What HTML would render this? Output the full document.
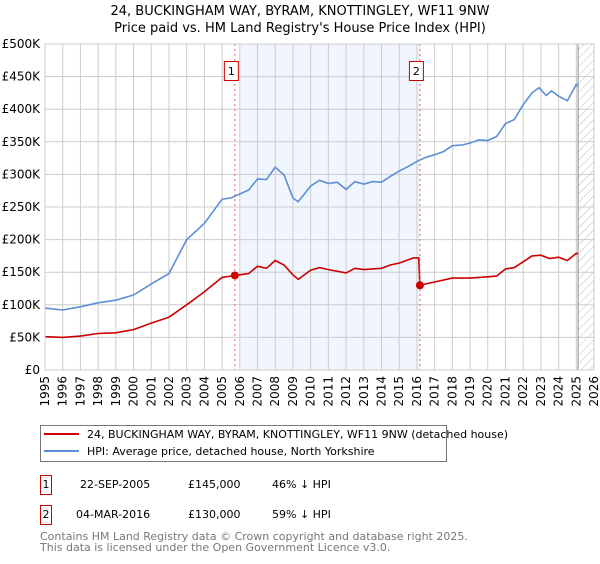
<!DOCTYPE html>
<html><head><meta charset="utf-8"><style>
body{margin:0;background:#fff;font-family:"DejaVu Sans","Liberation Sans",sans-serif;}
svg text{font-family:"DejaVu Sans","Liberation Sans",sans-serif;}
</style></head><body>
<svg id="chart" width="600" height="560" xmlns="http://www.w3.org/2000/svg">
<defs><pattern id="hatch" width="6" height="6" patternUnits="userSpaceOnUse" patternTransform="rotate(45)"><line x1="0" y1="0" x2="0" y2="6" stroke="#bbb" stroke-width="1"/></pattern></defs>
<text x="300" y="15" text-anchor="middle" font-size="13">24, BUCKINGHAM WAY, BYRAM, KNOTTINGLEY, WF11 9NW</text>
<text x="300" y="32" text-anchor="middle" font-size="13">Price paid vs. HM Land Registry's House Price Index (HPI)</text>
<g id="plot"></g>
<g>
<rect x="40.5" y="425.5" width="406" height="36" fill="#fff" stroke="#777"/>
<line x1="44" y1="434" x2="79" y2="434" stroke="#cc0000" stroke-width="2"/>
<text x="87" y="438" font-size="11">24, BUCKINGHAM WAY, BYRAM, KNOTTINGLEY, WF11 9NW (detached house)</text>
<line x1="44" y1="451" x2="79" y2="451" stroke="#5b8fd4" stroke-width="2"/>
<text x="87" y="455" font-size="11">HPI: Average price, detached house, North Yorkshire</text>
</g>
<g font-size="11">
<rect x="40.5" y="475.5" width="11" height="19" fill="#fff" stroke="#cc0000"/>
<text x="46" y="488" text-anchor="middle">1</text>
<text x="80" y="488">22-SEP-2005</text><text x="188" y="488">£145,000</text><text x="272" y="488">46% ↓ HPI</text>
</g>
<g font-size="11">
<rect x="40.5" y="505.5" width="11" height="19" fill="#fff" stroke="#cc0000"/>
<text x="46" y="518" text-anchor="middle">2</text>
<text x="76" y="518">04-MAR-2016</text><text x="188" y="518">£130,000</text><text x="272" y="518">59% ↓ HPI</text>
</g>
<text font-size="11" fill="#777"><tspan x="40" y="540">Contains HM Land Registry data © Crown copyright and database right 2025.</tspan><tspan x="40" y="551">This data is licensed under the Open Government Licence v3.0.</tspan></text>
</svg>
<script>
const hpiYears=[1995,1996,1997,1998,1999,2000,2001,2002,2003,2004,2005,2005.5,2006,2006.5,2007,2007.5,2008,2008.5,2009,2009.3,2010,2010.5,2011,2011.5,2012,2012.5,2013,2013.5,2014,2014.5,2015,2015.5,2016,2016.5,2017,2017.5,2018,2018.5,2019,2019.5,2020,2020.5,2021,2021.5,2022,2022.5,2022.9,2023.3,2023.6,2024,2024.5,2025,2025.1];
const hpiValues=[95,92,97,103,107,115,132,148,200,225,262,264,270,276,293,292,311,299,264,258,282,291,286,288,277,289,285,289,288,297,305,312,320,326,330,335,344,345,348,353,352,358,378,384,407,425,433,421,428,420,413,438,435];
const priceYears=[1995,1996,1997,1998,1999,2000,2001,2002,2003,2004,2005,2005.72,2006,2006.5,2007,2007.5,2008,2008.5,2009,2009.3,2010,2010.5,2011,2012,2012.5,2013,2014,2014.5,2015,2015.8,2016.1,2016.17,2017,2018,2019,2020,2020.5,2021,2021.5,2022,2022.5,2023,2023.5,2024,2024.5,2025,2025.1];
const priceValues=[51,50,52,56,57,62,72,81,100,120,142,145,146,148,159,156,168,161,146,139,153,157,154,149,156,154,156,161,164,172,172,130,135,141,141,143,144,155,157,166,175,176,171,173,168,179,178];
const saleYears=[2005.72,2016.17];
const saleValues=[145,130];
const saleLabels=["1","2"];
const yTicks=[0,50,100,150,200,250,300,350,400,450,500];
const yTickLabels=["£0","£50K","£100K","£150K","£200K","£250K","£300K","£350K","£400K","£450K","£500K"];
const xTicks=[1995,1996,1997,1998,1999,2000,2001,2002,2003,2004,2005,2006,2007,2008,2009,2010,2011,2012,2013,2014,2015,2016,2017,2018,2019,2020,2021,2022,2023,2024,2025,2026];

const X0=45,X1=594,Y0=370,Y1=44;
const xs=y=>X0+(y-1995)/(2026-1995)*(X1-X0);
const ys=v=>Y0-v/500*(Y0-Y1);
const NS="http://www.w3.org/2000/svg";
const g=document.getElementById('plot');
function mk(t,a){const e=document.createElementNS(NS,t);for(const k in a)e.setAttribute(k,a[k]);g.appendChild(e);return e;}
let e;
e=mk('rect',{x:xs(2006),y:Y1,width:xs(2016.17)-xs(2006),height:Y0-Y1,fill:'#eef3fc',opacity:0.8});


e=mk('rect',{x:xs(2025.1),y:Y1,width:X1-xs(2025.1),height:Y0-Y1,fill:'url(#hatch)'});


yTicks.forEach((v,i)=>{
 e=mk('line',{x1:X0,x2:X1,y1:ys(v),y2:ys(v),stroke:'#ccc'});
 
 
 e=mk('text',{x:X0-5,y:ys(v)+4,'text-anchor':'end','font-size':'12'});e.textContent=yTickLabels[i];
 
 
});
xTicks.forEach(y=>{
 e=mk('line',{x1:xs(y),x2:xs(y),y1:Y1,y2:Y0,stroke:'#ccc'});
 
 
 e=mk('text',{x:0,y:0,'text-anchor':'end','font-size':'12',transform:`translate(${xs(y)+4},${Y0+6}) rotate(-90)`});e.textContent=y;
 
 
});
e=mk('line',{x1:xs(2025.1),x2:xs(2025.1),y1:Y1,y2:Y0,stroke:'#888'});


function path(xa,va,col,name){
 const d=xa.map((x,i)=>(i?'L':'M')+xs(x).toFixed(1)+','+ys(va[i]).toFixed(1)).join('');
 const p=mk('path',{d:d,fill:'none',stroke:col,'stroke-width':1.6});
 
 
}
path(hpiYears,hpiValues,'#5b8fd4','hpi-line');
path(priceYears,priceValues,'#cc0000','price-line');
saleYears.forEach((y,i)=>{
 e=mk('line',{x1:xs(y),x2:xs(y),y1:Y1,y2:Y0,stroke:'#f06060','stroke-dasharray':'2,3'});
 
 
 e=mk('circle',{cx:xs(y),cy:ys(saleValues[i]),r:4,fill:'#cc0000'});
 
 
 e=mk('rect',{x:xs(y)-10.5,y:61.5,width:14,height:19,fill:'#fff',stroke:'#cc0000'});
 
 
 e=mk('text',{x:xs(y)-3.5,y:75,'text-anchor':'middle','font-size':'11'});e.textContent=saleLabels[i];
 
 
});
e=mk('rect',{x:X0,y:Y1,width:X1-X0,height:Y0-Y1,fill:'none',stroke:'#ccc'});


</script>
</body></html>
